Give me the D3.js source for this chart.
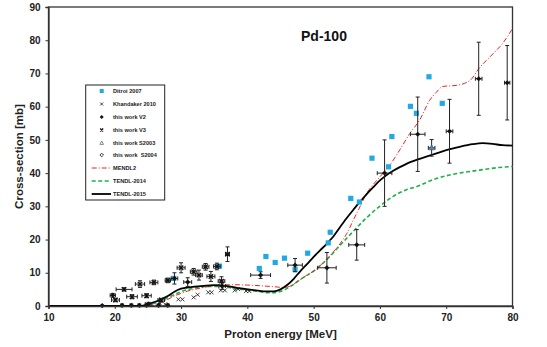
<!DOCTYPE html>
<html>
<head>
<meta charset="utf-8">
<script src="https://cdn.jsdelivr.net/npm/d3@7"></script>
<style>
  body { margin: 0; background: #fff; }
  svg { display: block; font-family: "Liberation Sans", Arial, sans-serif; font-weight: bold; }
</style>
</head>
<body>
<div id="chart"></div>
<script>
// Ditroi 2007
const ditroiE = [28.9, 35.8, 41.8, 42.8, 44.2, 45.6, 47.2, 49.1, 52.2, 52.5, 55.6, 56.9, 58.8, 61.3, 61.8, 64.6, 65.5, 67.4, 69.4];
const ditroiCs = [8.3, 12.0, 11.3, 14.9, 13.1, 14.4, 11.0, 15.9, 19.0, 22.2, 32.4, 31.3, 44.5, 41.9, 51.0, 60.1, 58.0, 69.0, 61.0];

// Khandaker 2010
const khandakerE = [26.8, 27.6, 29.6, 30.2, 31.9, 32.5, 34.1, 34.6, 36.0, 36.6, 38.1, 38.6, 39.8, 40.3];
const khandakerCs = [0.8, 0.5, 2.0, 2.0, 2.6, 3.4, 4.1, 4.1, 4.7, 4.7, 4.7, 5.1, 4.5, 4.5];

// this work V2
const v2E = [18.1, 19.7, 21.1, 22.5, 23.7, 24.8, 25.1, 26.6, 28.0, 29.0, 31.0, 36.2, 42.0, 47.2, 52.0, 56.5, 60.7, 65.7, 70.5, 74.9, 79.2];
const v2Cs = [0.1, 3.2, 0.2, 0.2, 0.2, 0.2, 0.6, 0.2, 0.2, 8.3, 7.2, 6.0, 9.3, 12.3, 11.5, 18.4, 40.0, 51.7, 52.6, 68.4, 67.2];
const v2ErrE = [0, 0.4, 0, 0, 0, 0, 0.5, 0, 0, 0.5, 0.6, 0.5, 1.5, 1.1, 1.4, 1.2, 1.1, 1.1, 0.5, 0.5, 0.4];
const v2ErrCs = [0.2, 0.6, 0.4, 0.4, 0.4, 0.4, 0.5, 0.4, 0.4, 1.7, 1.3, 1.0, 1.0, 2.0, 4.6, 4.6, 10, 11.2, 9.6, 11, 11.2];

// this work V3
const v3E = [20.1, 21.4, 22.6, 23.8, 24.8, 25.9, 27.0, 28.0, 30.0, 31.9, 32.7, 33.7, 34.5, 35.4, 36.1, 37.0];
const v3Cs = [1.8, 5.0, 2.8, 6.6, 3.1, 7.1, 1.8, 7.7, 11.5, 10.3, 9.3, 11.8, 8.9, 11.9, 7.5, 15.6];
const v3ErrE = [0.6, 1.2, 0.8, 0.7, 0.7, 0.6, 0.5, 0.4, 0.6, 0.5, 0.5, 0.5, 0.6, 0.5, 0.5, 0.3];
const v3ErrCs = [0.5, 0.5, 0.6, 1.0, 0.6, 0.7, 0.5, 0.7, 1.5, 1.0, 1.5, 1.0, 1.5, 1.0, 1.3, 2.2];

// this work S2003
const s2003E = [67.8];
const s2003Cs = [47.6];
const s2003ErrE = [0.5];
const s2003ErrCs = [2.5];

// model curves
const mendlE = [10, 25, 26, 27, 28, 29, 30, 31, 32, 34, 36, 38, 40, 42, 44, 45.5, 46.5, 47.5, 49, 50, 52, 54, 55, 56, 57, 58, 59, 60, 61.3, 63, 64.5, 66, 67.5, 68.5, 69.5, 71.5, 73.6, 74.9, 77.1, 78.5, 80];
const mendlCs = [0, 0, 0.2, 1.0, 2.0, 3.0, 3.8, 4.5, 5.0, 5.8, 6.3, 6.4, 6.3, 6.1, 5.8, 5.6, 6.0, 7.3, 9.3, 10.5, 14.2, 18.8, 21.8, 25.9, 29.9, 33.9, 36.6, 38.9, 41.9, 47.0, 51.9, 56.0, 61.9, 64.3, 66.1, 66.4, 67.9, 71.4, 76.0, 79.0, 83.5];

const tendl14E = [10, 24, 25, 26, 27, 28, 30, 32, 34, 36, 38, 40, 42, 43, 44, 45, 46, 47, 48, 50, 52, 54, 56, 58, 60, 62, 64, 65.5, 68, 70, 72, 75, 78, 80];
const tendl14Cs = [0, 0, 0.3, 0.8, 1.5, 2.5, 4.3, 5.4, 5.9, 5.9, 5.3, 4.8, 4.3, 4.0, 4.0, 4.4, 5.3, 6.5, 8.0, 10.5, 14.0, 18.3, 22.5, 26.6, 30.1, 33.0, 35.0, 35.9, 38.0, 39.2, 40.0, 40.9, 41.7, 42.0];

const tendl15E = [10, 24, 25, 26, 27, 28, 29, 30, 32, 35, 37, 39, 41, 43, 44, 45, 46, 47, 48, 49, 50, 51, 52, 53, 54, 55, 56, 57, 58, 59, 60, 61, 62, 63, 64, 66, 68, 70, 72, 74, 75.5, 77, 78.5, 80];
const tendl15Cs = [0, 0, 0.6, 1.2, 2.0, 3.0, 4.3, 5.2, 5.8, 6.3, 6.0, 5.3, 4.8, 4.4, 4.4, 5.0, 6.3, 8.2, 10.5, 12.6, 14.8, 16.8, 18.8, 21.0, 23.8, 26.5, 29.0, 31.4, 33.7, 35.8, 37.8, 39.4, 40.7, 41.8, 42.8, 44.3, 45.6, 46.9, 47.9, 48.7, 49.0, 48.8, 48.4, 48.3];

const xTicks = [10, 20, 30, 40, 50, 60, 70, 80];
const yTicks = [0, 10, 20, 30, 40, 50, 60, 70, 80, 90];

const width = 547, height = 347;
const marginLeft = 48.5, marginRight = 34.5, marginTop = 7, marginBottom = 41;

const x = d3.scaleLinear().domain([10, 80]).range([marginLeft, width - marginRight]);
const y = d3.scaleLinear().domain([0, 90]).range([height - marginBottom, marginTop]);

const blue = "#23a9e1";

const svg = d3.select("#chart").append("svg")
  .attr("width", width)
  .attr("height", height)
  .attr("viewBox", [0, 0, width, height]);

const plot = svg.append("g");

// frame
plot.append("rect")
  .attr("x", marginLeft).attr("y", marginTop)
  .attr("width", width - marginLeft - marginRight)
  .attr("height", height - marginTop - marginBottom)
  .attr("fill", "none").attr("stroke", "#333").attr("stroke-width", 1.3);

// axes
svg.append("g")
  .attr("transform", `translate(0,${height - marginBottom})`)
  .call(d3.axisBottom(x).tickValues(xTicks).tickSize(3).tickPadding(5))
  .call((g) => g.select(".domain").attr("stroke", "#333").attr("stroke-width", 1.3))
  .call((g) => g.selectAll("line").attr("stroke", "#333"))
  .call((g) => g.selectAll("text").attr("font-size", 10).attr("font-weight", "bold").attr("fill", "#222"));

svg.append("g")
  .attr("transform", `translate(${marginLeft},0)`)
  .call(d3.axisLeft(y).tickValues(yTicks).tickSize(3).tickPadding(5))
  .call((g) => g.select(".domain").attr("stroke", "#333").attr("stroke-width", 1.3))
  .call((g) => g.selectAll("line").attr("stroke", "#333"))
  .call((g) => g.selectAll("text").attr("font-size", 10).attr("font-weight", "bold").attr("fill", "#222"));

svg.append("text")
  .attr("x", (marginLeft + width - marginRight) / 2)
  .attr("y", 338)
  .attr("text-anchor", "middle")
  .attr("font-size", 11.5)
  .attr("fill", "#222")
  .text("Proton energy [MeV]");

svg.append("text")
  .attr("transform", `translate(23,${(marginTop + height - marginBottom) / 2}) rotate(-90)`)
  .attr("text-anchor", "middle")
  .attr("font-size", 11.5)
  .attr("fill", "#222")
  .text("Cross-section [mb]");

svg.append("text")
  .attr("x", 324).attr("y", 41)
  .attr("text-anchor", "middle")
  .attr("font-size", 14)
  .attr("fill", "#111")
  .text("Pd-100");

// curves
const line = (es, cs) => d3.line().x((d) => x(d)).y((d, i) => y(cs[i])).curve(d3.curveMonotoneX)(es);

plot.append("path").attr("d", line(tendl14E, tendl14Cs))
  .attr("fill", "none").attr("stroke", "#1fb04a").attr("stroke-width", 1.6).attr("stroke-dasharray", "4,2.5");
plot.append("path").attr("d", line(mendlE, mendlCs))
  .attr("fill", "none").attr("stroke", "#ee2222").attr("stroke-width", 1).attr("stroke-dasharray", "5,2,1,2");
plot.append("path").attr("d", line(tendl15E, tendl15Cs))
  .attr("fill", "none").attr("stroke", "#000").attr("stroke-width", 1.8);

// Ditroi squares
plot.append("g").selectAll("rect")
  .data(ditroiE)
  .join("rect")
  .attr("x", (d) => x(d) - 2.6)
  .attr("y", (d, i) => y(ditroiCs[i]) - 2.6)
  .attr("width", 5.2).attr("height", 5.2)
  .attr("fill", blue);

// Khandaker crosses
plot.append("g").selectAll("path")
  .data(khandakerE)
  .join("path")
  .attr("transform", (d, i) => `translate(${x(d)},${y(khandakerCs[i])})`)
  .attr("d", "M-2,-2L2,2M-2,2L2,-2")
  .attr("stroke", "#111").attr("stroke-width", 0.8);

// error bars
function errorBars(es, cs, errE, errCs, color) {
  const g = plot.append("g").attr("stroke", color).attr("stroke-width", 1).attr("fill", "none");
  g.selectAll("path")
    .data(es)
    .join("path")
    .attr("d", (d, i) => {
      const cx = x(d), cy = y(cs[i]);
      const x0 = x(d - errE[i]), x1 = x(d + errE[i]);
      const y0 = y(cs[i] - errCs[i]), y1 = y(cs[i] + errCs[i]);
      let p = `M${cx},${y0}V${y1}M${cx - 2},${y0}h4M${cx - 2},${y1}h4`;
      if (errE[i] > 0) p += `M${x0},${cy}H${x1}M${x0},${cy - 2}v4M${x1},${cy - 2}v4`;
      return p;
    });
}

errorBars(v3E, v3Cs, v3ErrE, v3ErrCs, "#222");
errorBars(v2E, v2Cs, v2ErrE, v2ErrCs, "#222");
errorBars(s2003E, s2003Cs, s2003ErrE, s2003ErrCs, "#222");

// V2 diamonds
plot.append("g").selectAll("path")
  .data(v2E)
  .join("path")
  .attr("transform", (d, i) => `translate(${x(d)},${y(v2Cs[i])})`)
  .attr("d", "M0,-2.6L2.6,0L0,2.6L-2.6,0Z")
  .attr("fill", "#111");

// V3 stars
plot.append("g").selectAll("path")
  .data(v3E)
  .join("path")
  .attr("transform", (d, i) => `translate(${x(d)},${y(v3Cs[i])})`)
  .attr("d", "M-2.2,-2.2L2.2,2.2M-2.2,2.2L2.2,-2.2")
  .attr("stroke", "#111").attr("stroke-width", 1.4);

// S2003 triangle
plot.append("g").selectAll("path")
  .data(s2003E)
  .join("path")
  .attr("transform", (d, i) => `translate(${x(d)},${y(s2003Cs[i])})`)
  .attr("d", "M0,-3L2.8,2L-2.8,2Z")
  .attr("fill", "#5a7fb0").attr("stroke", "#33507a").attr("stroke-width", 0.6);

// legend
const legendNames = ["Ditroi 2007", "Khandaker 2010", "this work V2", "this work V3", "this work S2003", "this work  S2004", "MENDL2", "TENDL-2014", "TENDL-2015"];
const legendY = [91, 104, 117, 130, 143, 155, 168, 181, 194];

const legend = svg.append("g");
legend.append("rect")
  .attr("x", 85.7).attr("y", 85)
  .attr("width", 79).attr("height", 115)
  .attr("fill", "#fff").attr("stroke", "#222").attr("stroke-width", 1);

legend.selectAll("text")
  .data(legendNames)
  .join("text")
  .attr("x", (d, i) => (i >= 6 ? 113 : 113))
  .attr("y", (d, i) => legendY[i])
  .attr("dy", "0.35em")
  .attr("font-size", 5.6)
  .attr("fill", "#222")
  .style("white-space", "pre")
  .text((d) => d);

const mx = 101.7;
legend.append("rect").attr("x", mx - 2).attr("y", legendY[0] - 2).attr("width", 4).attr("height", 4).attr("fill", blue);
legend.append("path").attr("d", `M${mx - 1.5},${legendY[1] - 1.5}l3,3m-3,0l3,-3`).attr("stroke", "#111").attr("stroke-width", 0.8);
legend.append("path").attr("d", `M${mx},${legendY[2] - 2}l2,2l-2,2l-2,-2Z`).attr("fill", "#111");
legend.append("path").attr("d", `M${mx - 1.5},${legendY[3] - 1.5}l3,3m-3,0l3,-3`).attr("stroke", "#111").attr("stroke-width", 1.3);
legend.append("path").attr("d", `M${mx},${legendY[4] - 2}l1.8,3.4h-3.6Z`).attr("fill", "none").attr("stroke", "#3b5d9a").attr("stroke-width", 0.7);
legend.append("path").attr("d", `M${mx},${legendY[5] - 1.8}l1.8,1.8l-1.8,1.8l-1.8,-1.8Z`).attr("fill", "none").attr("stroke", "#111").attr("stroke-width", 0.8);
legend.append("line").attr("x1", 91.7).attr("x2", 111).attr("y1", legendY[6]).attr("y2", legendY[6])
  .attr("stroke", "#ee2222").attr("stroke-width", 1).attr("stroke-dasharray", "5,2,1,2");
legend.append("line").attr("x1", 91.7).attr("x2", 111).attr("y1", legendY[7]).attr("y2", legendY[7])
  .attr("stroke", "#1fb04a").attr("stroke-width", 1.6).attr("stroke-dasharray", "4,2.5");
legend.append("line").attr("x1", 91.7).attr("x2", 111).attr("y1", legendY[8]).attr("y2", legendY[8])
  .attr("stroke", "#000").attr("stroke-width", 1.8);
</script>
</body>
</html>
